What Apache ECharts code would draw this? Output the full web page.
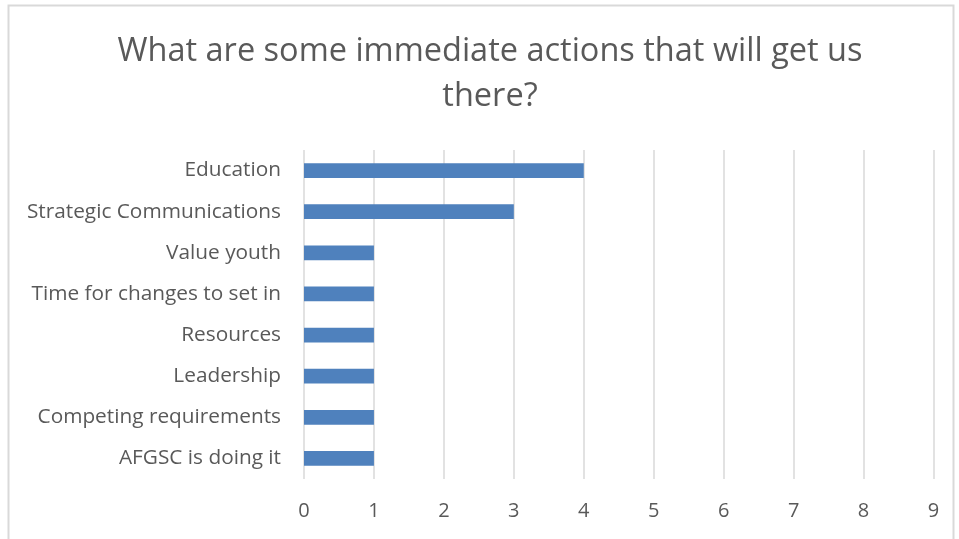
<!DOCTYPE html>
<html>
<head>
<meta charset="utf-8">
<script src="https://cdn.jsdelivr.net/npm/echarts@6/dist/echarts.min.js"></script>
<style>
  html, body { margin: 0; padding: 0; background: #ffffff; }
  #chart { width: 959px; height: 539px; }
</style>
</head>
<body>
<div id="chart"></div>
<script>
// Survey responses: immediate actions, count of mentions
const titleText = 'What are some immediate actions that will get us\nthere?';
const categories = [
  'Education',
  'Strategic Communications',
  'Value youth',
  'Time for changes to set in',
  'Resources',
  'Leadership',
  'Competing requirements',
  'AFGSC is doing it'
];
const counts = [4, 3, 1, 1, 1, 1, 1, 1];
const xMin = 0;
const xMax = 9;
const xStep = 1;

const chart = echarts.init(document.getElementById('chart'), null, { renderer: 'canvas' });

const textColor = '#595959';
const gridColor = '#d9d9d9';
const fontFamily = '"Open Sans", sans-serif';

chart.setOption({
  animation: false,
  backgroundColor: '#ffffff',
  graphic: [
    {
      type: 'rect',
      shape: { x: 8.5, y: 5.5, width: 945, height: 560 },
      style: { fill: 'none', stroke: gridColor, lineWidth: 2 },
      silent: true,
      z: -1
    }
  ],
  title: {
    text: titleText,
    left: 485,
    top: 24,
    textAlign: 'center',
    textStyle: {
      fontFamily: fontFamily,
      fontSize: 32.5,
      fontWeight: 'normal',
      color: textColor,
      lineHeight: 45
    }
  },
  grid: {
    left: 304,
    right: 25.5,
    top: 150,
    bottom: 60,
    containLabel: false
  },
  xAxis: {
    type: 'value',
    min: xMin,
    max: xMax,
    interval: xStep,
    axisLine: { show: false },
    axisTick: { show: false },
    axisLabel: {
      color: textColor,
      fontFamily: fontFamily,
      fontSize: 20,
      margin: 22
    },
    splitLine: { show: true, lineStyle: { color: gridColor, width: 1.5 } }
  },
  yAxis: {
    type: 'category',
    data: categories,
    inverse: true,
    axisLine: { show: false },
    axisTick: { show: false },
    axisLabel: {
      color: textColor,
      fontFamily: fontFamily,
      fontSize: 20.8,
      margin: 23
    },
    splitLine: { show: false }
  },
  series: [
    {
      type: 'bar',
      data: counts,
      barWidth: '36%',
      itemStyle: { color: '#4f81bd' }
    }
  ]
});
</script>
</body>
</html>
